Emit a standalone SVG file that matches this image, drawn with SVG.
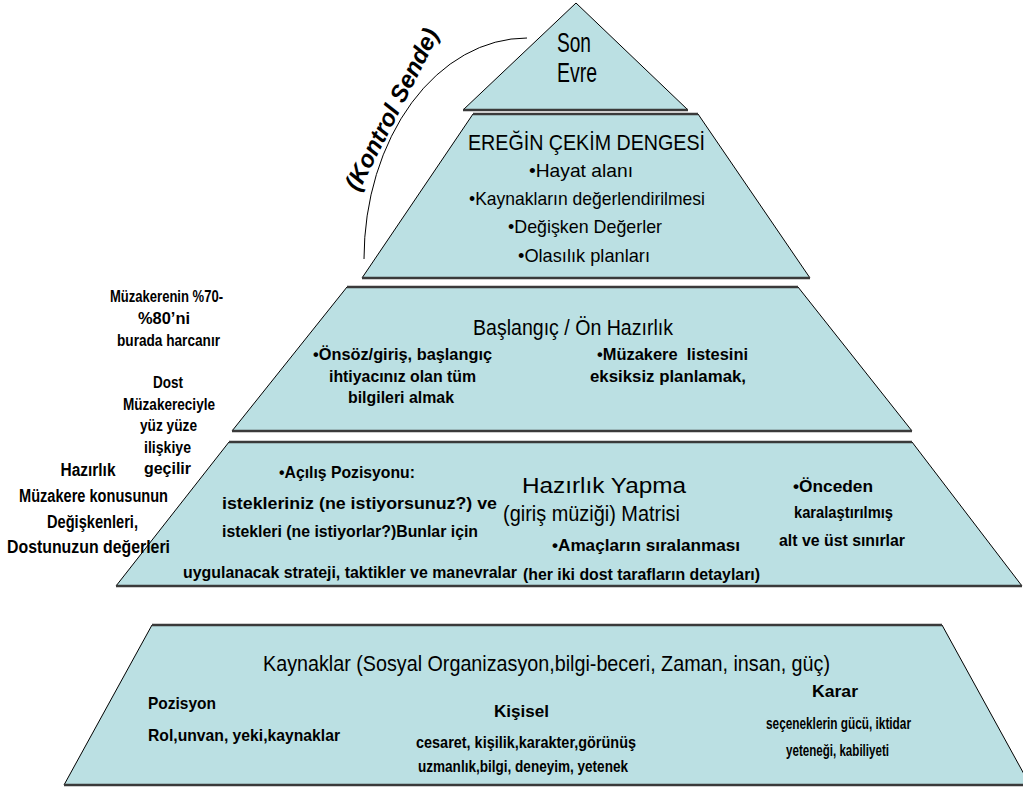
<svg xmlns="http://www.w3.org/2000/svg" width="1023" height="787" viewBox="0 0 1023 787">
<style>
.tier{fill:#BBE0E3;stroke:#000;stroke-width:1}
.edge{stroke:#3a3a3a;stroke-width:2.5;fill:none}
text{font-family:"Liberation Sans",Arial,sans-serif;fill:#000}
.big{font-size:27px;text-anchor:middle}
.ttl{font-size:22px;text-anchor:middle}
.hd{font-size:21.5px;text-anchor:middle}
.bl{font-size:19px;text-anchor:middle}
.b{font-size:16.5px;font-weight:bold;text-anchor:middle}
.bs{font-size:16.5px;font-weight:bold}
.bb{font-size:17.5px;font-weight:bold;text-anchor:middle}
.arc{fill:none;stroke:#000;stroke-width:1}
.ks{font-size:24px;font-weight:bold;font-style:italic;text-anchor:middle}
</style>
<rect width="1023" height="787" fill="#fff"/>
<g id="connectors">
<path class="arc" d="M364,259 A163,221 0 0 1 527,38"/>
<text class="ks" transform="translate(399,113) rotate(-63)" textLength="178" lengthAdjust="spacingAndGlyphs">(Kontrol Sende)</text>
</g>
<g id="son-evre">
<polygon class="tier" points="576,3 688,110 463,110"/>
<line class="edge" x1="463" y1="110" x2="688" y2="110"/>
<text class="big" x="574" y="52" textLength="34" lengthAdjust="spacingAndGlyphs">Son</text>
<text class="big" x="577" y="82" textLength="40" lengthAdjust="spacingAndGlyphs">Evre</text>
</g>
<g id="eregin">
<polygon class="tier" points="473,114 698,114 810,278 362,278"/>
<line class="edge" x1="473" y1="114" x2="698" y2="114"/>
<line class="edge" x1="362" y1="278" x2="810" y2="278"/>
<text class="ttl" x="586.5" y="150" textLength="237" lengthAdjust="spacingAndGlyphs">EREĞİN ÇEKİM DENGESİ</text>
<text class="bl" x="581" y="177" textLength="104" lengthAdjust="spacingAndGlyphs">•Hayat alanı</text>
<text class="bl" x="587" y="205" textLength="236" lengthAdjust="spacingAndGlyphs">•Kaynakların değerlendirilmesi</text>
<text class="bl" x="585" y="233" textLength="154" lengthAdjust="spacingAndGlyphs">•Değişken Değerler</text>
<text class="bl" x="584" y="262" textLength="132" lengthAdjust="spacingAndGlyphs">•Olasılık planları</text>
</g>
<g id="baslangic">
<polygon class="tier" points="347,287 798,287 912,431 232,431"/>
<line class="edge" x1="347" y1="287" x2="798" y2="287"/>
<line class="edge" x1="232" y1="431" x2="912" y2="431"/>
<text class="hd" x="573" y="335" textLength="200" lengthAdjust="spacingAndGlyphs">Başlangıç / Ön Hazırlık</text>
<text class="b" x="402.5" y="360" textLength="179" lengthAdjust="spacingAndGlyphs">•Önsöz/giriş, başlangıç</text>
<text class="b" x="402.5" y="382" textLength="147" lengthAdjust="spacingAndGlyphs">ihtiyacınız olan tüm</text>
<text class="b" x="401" y="403" textLength="106" lengthAdjust="spacingAndGlyphs">bilgileri almak</text>
<text class="b" x="672.5" y="360" textLength="151" lengthAdjust="spacingAndGlyphs" xml:space="preserve">•Müzakere  listesini</text>
<text class="b" x="668" y="382" textLength="156" lengthAdjust="spacingAndGlyphs">eksiksiz planlamak,</text>
</g>
<g id="hazirlik-yapma">
<polygon class="tier" points="229,442 912,442 1022,586 116,586"/>
<line class="edge" x1="229" y1="442" x2="912" y2="442"/>
<line class="edge" x1="116" y1="586" x2="1022" y2="586"/>
<text class="b" x="347" y="478" textLength="136" lengthAdjust="spacingAndGlyphs">•Açılış Pozisyonu:</text>
<text class="b" x="359.5" y="509" textLength="275" lengthAdjust="spacingAndGlyphs">istekleriniz (ne istiyorsunuz?) ve</text>
<text class="b" x="350" y="537" textLength="256" lengthAdjust="spacingAndGlyphs">istekleri (ne istiyorlar?)Bunlar için</text>
<text class="b" x="350" y="578" textLength="334" lengthAdjust="spacingAndGlyphs">uygulanacak strateji, taktikler ve manevralar</text>
<text class="hd" x="604" y="493" textLength="164" lengthAdjust="spacingAndGlyphs">Hazırlık Yapma</text>
<text class="hd" x="591.5" y="521" textLength="177" lengthAdjust="spacingAndGlyphs">(giriş müziği) Matrisi</text>
<text class="b" x="646" y="551" textLength="188" lengthAdjust="spacingAndGlyphs">•Amaçların sıralanması</text>
<text class="b" x="641.5" y="580" textLength="237" lengthAdjust="spacingAndGlyphs">(her iki dost tarafların detayları)</text>
<text class="b" x="833" y="492" textLength="80" lengthAdjust="spacingAndGlyphs">•Önceden</text>
<text class="b" x="843.5" y="518" textLength="99" lengthAdjust="spacingAndGlyphs">karalaştırılmış</text>
<text class="b" x="842" y="546" textLength="126" lengthAdjust="spacingAndGlyphs">alt ve üst sınırlar</text>
</g>
<g id="kaynaklar">
<polygon class="tier" points="152,625 942,625 1030,785 64,785"/>
<line class="edge" x1="152" y1="625" x2="942" y2="625"/>
<line class="edge" x1="64" y1="785" x2="1030" y2="785"/>
<text class="hd" x="546.5" y="671" textLength="567" lengthAdjust="spacingAndGlyphs">Kaynaklar (Sosyal Organizasyon,bilgi-beceri, Zaman, insan, güç)</text>
<text class="bs" x="148" y="709" textLength="68" lengthAdjust="spacingAndGlyphs">Pozisyon</text>
<text class="bs" x="148" y="741" textLength="192" lengthAdjust="spacingAndGlyphs">Rol,unvan, yeki,kaynaklar</text>
<text class="b" x="521.5" y="717" textLength="55" lengthAdjust="spacingAndGlyphs">Kişisel</text>
<text class="b" x="526" y="748" textLength="220" lengthAdjust="spacingAndGlyphs">cesaret, kişilik,karakter,görünüş</text>
<text class="b" x="523" y="772" textLength="210" lengthAdjust="spacingAndGlyphs">uzmanlık,bilgi, deneyim, yetenek</text>
<text class="b" x="835" y="697" textLength="46" lengthAdjust="spacingAndGlyphs">Karar</text>
<text class="b" x="838.5" y="729" textLength="145" lengthAdjust="spacingAndGlyphs">seçeneklerin gücü, iktidar</text>
<text class="b" x="837.5" y="756" textLength="103" lengthAdjust="spacingAndGlyphs">yeteneği, kabiliyeti</text>
</g>
<g id="notes">
<text class="b" x="166.5" y="302" textLength="113" lengthAdjust="spacingAndGlyphs">Müzakerenin %70-</text>
<text class="b" x="164" y="324" textLength="52" lengthAdjust="spacingAndGlyphs">%80’ni</text>
<text class="b" x="168.5" y="346" textLength="103" lengthAdjust="spacingAndGlyphs">burada harcanır</text>
<text class="b" x="168" y="388" textLength="30" lengthAdjust="spacingAndGlyphs">Dost</text>
<text class="b" x="169" y="410" textLength="92" lengthAdjust="spacingAndGlyphs">Müzakereciyle</text>
<text class="b" x="168.5" y="431" textLength="57" lengthAdjust="spacingAndGlyphs">yüz yüze</text>
<text class="b" x="167.5" y="453" textLength="47" lengthAdjust="spacingAndGlyphs">ilişkiye</text>
<text class="b" x="167.5" y="474" textLength="47" lengthAdjust="spacingAndGlyphs">geçilir</text>
<text class="bb" x="88" y="476" textLength="55" lengthAdjust="spacingAndGlyphs">Hazırlık</text>
<text class="bb" x="93.5" y="502" textLength="149" lengthAdjust="spacingAndGlyphs">Müzakere konusunun</text>
<text class="bb" x="92.5" y="528" textLength="91" lengthAdjust="spacingAndGlyphs">Değişkenleri,</text>
<text class="bb" x="88.5" y="553" textLength="163" lengthAdjust="spacingAndGlyphs">Dostunuzun değerleri</text>
</g>
</svg>
